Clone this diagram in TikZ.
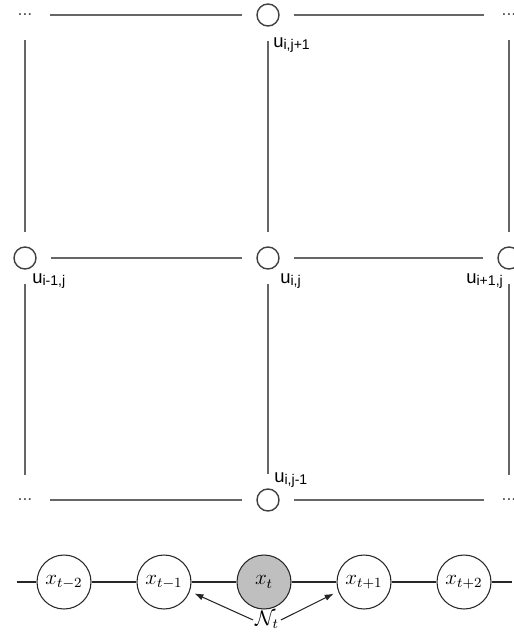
\documentclass[tikz,border=0pt]{standalone}
\usepackage{fontspec}
\newfontfamily\labfont{Liberation Sans}
\usetikzlibrary{arrows.meta, positioning}
\newcommand{\ulab}[1]{u\raisebox{-0.3ex}{\fontsize{8}{9}\selectfont #1}}

\begin{document}
\begin{tikzpicture}[
  font=\small, >=Stealth,
  site/.style={circle, draw=black!75, line width=0.8pt,
               minimum size=0.44cm, inner sep=0pt},
  gdots/.style={circle, minimum size=0.44cm, inner sep=0pt,
                text=black!70, font=\labfont\fontsize{10}{12}\selectfont},
  glink/.style={draw=black!60, line width=0.9pt,
                shorten <=0.28cm, shorten >=0.28cm},
  glab/.style={anchor=base west, inner sep=0pt,
               font=\labfont\fontsize{10.5}{12}\selectfont},
  var/.style={circle, draw=black!85, line width=0.6pt,
              minimum size=1.08cm, inner sep=0pt,
              font=\fontsize{11.5}{14}\selectfont},
  obs/.style={var, fill=gray!50},
  clink/.style={draw=black!85, line width=0.6pt},
  nb/.style={->, >={Latex[length=1.8mm, width=1.3mm]}, black!85,
             line width=0.6pt, shorten >=0.1cm}
]
  \def\xL{0.5}  \def\xC{5.36}  \def\xR{10.18}
  \def\yT{-0.3} \def\yM{-5.16} \def\yB{-10.0}
  \def\yX{-11.64}

  \useasboundingbox (0,0) rectangle (10.28,-12.7);

  %--- lattice sites ---
  \node[gdots] (dTL) at (\xL,\yT) {...};
  \node[site]  (uT)  at (\xC,\yT) {};
  \node[gdots] (dTR) at (\xR,\yT) {...};
  \node[site]  (uL)  at (\xL,\yM) {};
  \node[site]  (uC)  at (\xC,\yM) {};
  \node[site]  (uR)  at (\xR,\yM) {};
  \node[gdots] (dBL) at (\xL,\yB) {...};
  \node[site]  (uB)  at (\xC,\yB) {};
  \node[gdots] (dBR) at (\xR,\yB) {...};

  %--- lattice edges ---
  \foreach \a/\b in {dTL/uT, uT/dTR, uL/uC, uC/uR, dBL/uB, uB/dBR,
                     dTL/uL, uL/dBL, uT/uC, uC/uB, dTR/uR, uR/dBR}
    \draw[glink] (\a) -- (\b);

  %--- site labels ---
  \node[glab] (lT) at (5.46,-0.94) {\ulab{i,j+1}};
  \node[glab] (lL) at (0.64,-5.66) {\ulab{i-1,j}};
  \node[glab] (lC) at (5.60,-5.66) {\ulab{i,j}};
  \node[glab] (lR) at (9.32,-5.66) {\ulab{i+1,j}};
  \node[glab] (lB) at (5.48,-9.64) {\ulab{i,j-1}};

  %--- chain ---
  \coordinate (cl) at (0.34,\yX);
  \coordinate (cr) at (10.24,\yX);
  \node[var] (xm2) at (1.28,\yX) {$x_{t-2}$};
  \node[var] (xm1) at (3.28,\yX) {$x_{t-1}$};
  \node[obs] (xt)  at (5.28,\yX) {$x_t$};
  \node[var] (xp1) at (7.28,\yX) {$x_{t+1}$};
  \node[var] (xp2) at (9.28,\yX) {$x_{t+2}$};
  \foreach \a/\b in {cl/xm2, xm2/xm1, xm1/xt, xt/xp1, xp1/xp2, xp2/cr}
    \draw[clink] (\a) -- (\b);

  %--- neighbourhood ---
  \node[inner sep=1pt, font=\fontsize{12}{14}\selectfont] (nt)
    at (5.34,-12.4) {$\mathcal{N}_t$};
  \draw[nb] (nt.west) -- (xm1.-20);
  \draw[nb] (nt.east) -- (xp1.200);

\end{tikzpicture}
\end{document}
